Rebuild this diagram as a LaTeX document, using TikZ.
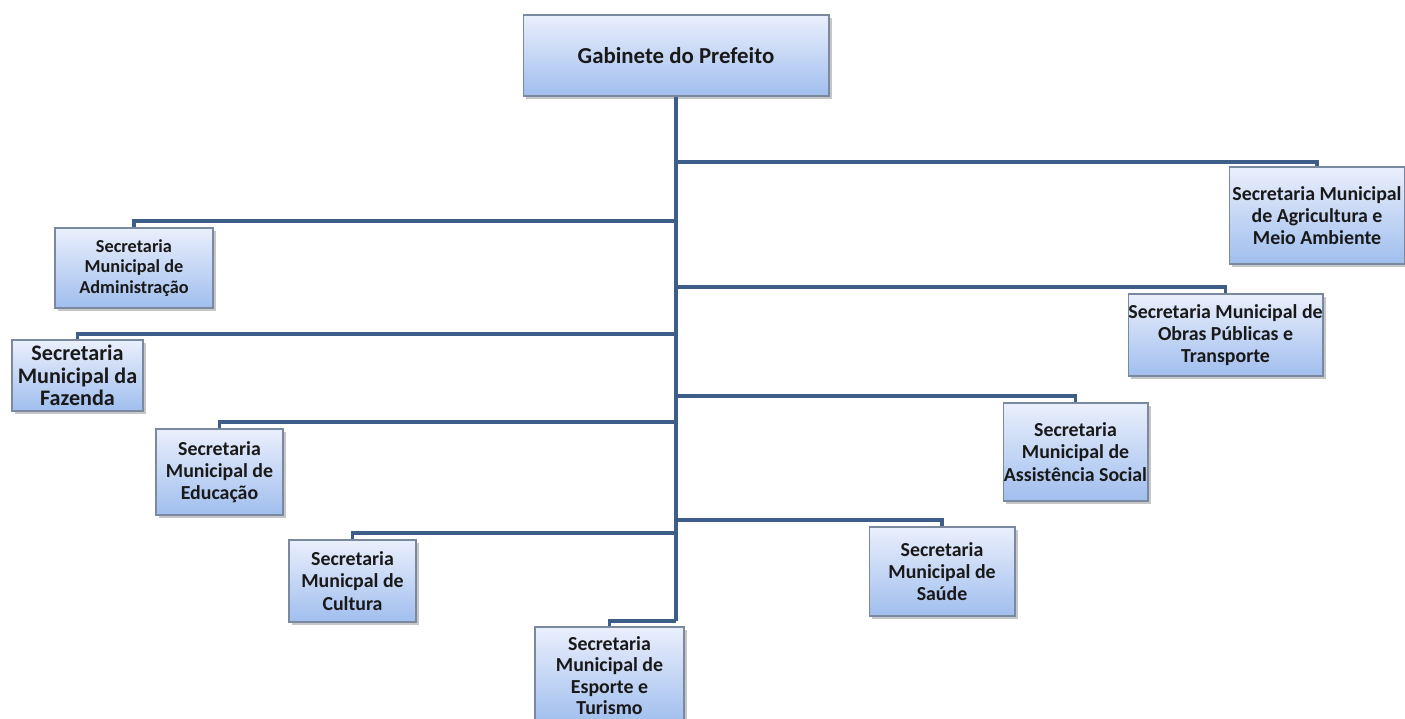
\documentclass[tikz,border=0pt]{standalone}
\usepackage{fontspec}
\setmainfont{Carlito}
\usetikzlibrary{%
		shadows%
	}

\definecolor{linha}{RGB}{62,94,138}
\definecolor{borda}{RGB}{122,136,160}
\definecolor{topo}{RGB}{234,239,252}
\definecolor{fundo}{RGB}{160,190,238}

\tikzset{
	orgbox/.style={draw=borda, line width=0.6pt, top color=topo, bottom color=fundo,
		drop shadow={shadow xshift=1.5pt, shadow yshift=-1.5pt, opacity=0.45},
		align=center, inner sep=0pt, text=black!90,
		font=\fontsize{11.3}{12.6}\selectfont\bfseries},
	trunk/.style={linha, line width=2.3pt},
	branch/.style={linha, line width=1.8pt}
}

\begin{document}
\begin{tikzpicture}[x=0.02cm, y=-0.02cm]
			\useasboundingbox (0,0) rectangle (1405,719);
			
			% topo
			\node[orgbox, minimum width=6.12cm, minimum height=1.62cm, font=\fontsize{13}{15}\selectfont\bfseries] (gab) at (676,55.5) {Gabinete do Prefeito};
			
			% lado direito
			\node[orgbox, minimum width=3.52cm, minimum height=1.94cm] (agri) at (1317,215.5) {Secretaria Municipal\\de Agricultura e\\Meio Ambiente};
			\node[orgbox, minimum width=3.90cm, minimum height=1.64cm] (obras) at (1225.5,335) {Secretaria Municipal de\\Obras Públicas e\\Transporte};
			\node[orgbox, minimum width=2.90cm, minimum height=1.96cm] (assist) at (1075.5,452) {Secretaria\\Municipal de\\Assistência Social};
			\node[orgbox, minimum width=2.92cm, minimum height=1.78cm] (saude) at (942,571.5) {Secretaria\\Municipal de\\Saúde};
			
			% lado esquerdo
			\node[orgbox, minimum width=3.16cm, minimum height=1.60cm, font=\fontsize{10.4}{11.8}\selectfont\bfseries] (adm) at (134,268) {Secretaria\\Municipal de\\Administração};
			\node[orgbox, minimum width=2.62cm, minimum height=1.42cm, font=\fontsize{12.6}{12.9}\selectfont\bfseries] (faz) at (77.5,375.5) {Secretaria\\Municipal da\\Fazenda};
			\node[orgbox, minimum width=2.54cm, minimum height=1.72cm] (edu) at (219.5,472) {Secretaria\\Municipal de\\Educação};
			\node[orgbox, minimum width=2.54cm, minimum height=1.64cm] (cult) at (352.5,581) {Secretaria\\Municpal de\\Cultura};
			
			% embaixo
			\node[orgbox, minimum width=2.98cm, minimum height=1.94cm, font=\fontsize{11.3}{12.2}\selectfont\bfseries] (esp) at (609.5,675.5) {Secretaria\\Municipal de\\Esporte e\\Turismo};
			
			\draw[trunk] (gab.south) -- (gab.south |- 0,621);
			\draw[branch] (gab.south |- 0,621) -| (esp.north);
			\foreach \b/\y in {agri/162,adm/221,obras/287,faz/334,assist/396,edu/422,saude/520,cult/533}
				\draw[branch] (gab.south |- 0,\y) -| (\b.north);
		\end{tikzpicture}
\end{document}
